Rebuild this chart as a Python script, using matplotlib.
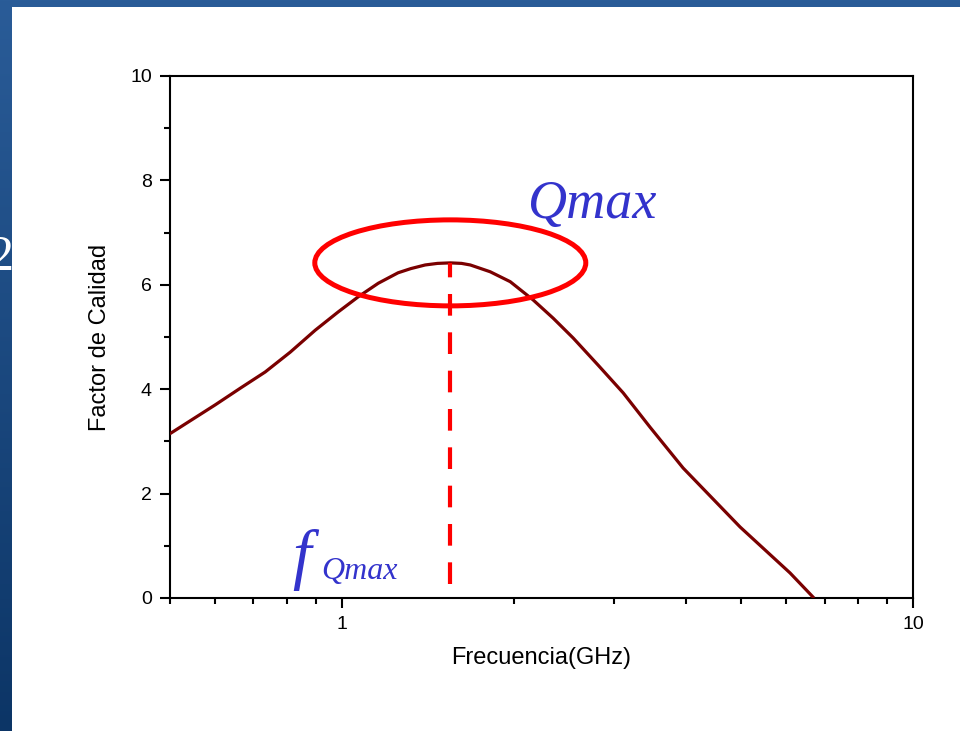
import numpy as np
import matplotlib
matplotlib.use("Agg")
import matplotlib.pyplot as plt
from matplotlib.patches import Ellipse, Rectangle
from matplotlib.transforms import ScaledTranslation
from matplotlib.ticker import LogLocator, NullFormatter, FixedLocator

# values
freq_ghz = [0.502, 0.600, 0.664, 0.734, 0.812, 0.898, 0.985, 1.068, 1.158,
            1.254, 1.320, 1.399, 1.470, 1.548, 1.620, 1.678, 1.818, 1.971,
            2.162, 2.344, 2.541, 2.810, 3.108, 3.465, 3.958, 4.980, 6.091,
            6.68]
q_factor = [3.16, 3.70, 4.02, 4.33, 4.71, 5.13, 5.48, 5.77, 6.03,
            6.23, 6.31, 6.38, 6.41, 6.42, 6.41, 6.38, 6.25, 6.06,
            5.71, 5.36, 4.98, 4.46, 3.93, 3.27, 2.49, 1.36, 0.48,
            0.02]
f_qmax = 1.548
q_max = 6.42
dash_bottom = 0.27

y_ticks = [0, 2, 4, 6, 8, 10]
y_minor = [1, 3, 5, 7, 9]

plt.rcParams['font.family'] = ['Liberation Sans', 'DejaVu Sans']

fig = plt.figure(figsize=(9.6, 7.31), dpi=100)

# blue slide background with a white panel on top
bg = fig.add_axes([0, 0, 1, 1], zorder=-10)
grad = np.linspace(0, 1, 256).reshape(-1, 1)
bg.imshow(grad, aspect='auto', extent=[0, 1, 0, 1],
          cmap=matplotlib.colors.LinearSegmentedColormap.from_list(
              'bl', ['#2a5c98', '#0c3566']))
bg.text(14 / 960, 1 - 258 / 731, "2", color='white', fontsize=36,
        family='Liberation Serif', ha='right', va='center',
        transform=bg.transAxes)
bg.add_patch(Rectangle((12 / 960, 0), 1, 1 - 7 / 731, facecolor='white',
                       edgecolor='none', transform=bg.transAxes, zorder=5))
bg.set_xlim(0, 1)
bg.set_ylim(0, 1)
bg.axis('off')

ax = fig.add_axes([170 / 960, 133 / 731, 743 / 960, 522 / 731])
ax.plot(freq_ghz, q_factor, color='#7a0000', lw=2.3, zorder=3,
        solid_joinstyle='round')
ax.set_xscale('log')
ax.set_xlim(0.5, 10)
ax.set_ylim(0, 10)

ax.vlines(f_qmax, dash_bottom, q_max, colors='#ff0000', lw=3.0,
          linestyles=(0, (5.2, 4.0)), zorder=4)

# ellipse around the peak, sized in inches and centred on the data point
ell_tr = fig.dpi_scale_trans + ScaledTranslation(f_qmax, q_max, ax.transData)
ax.add_patch(Ellipse((0, 0), 2.71, 0.86, transform=ell_tr, fill=False,
                     edgecolor='#ff0000', lw=3.6, zorder=5, clip_on=False))

ax.text((527 - 170) / 743, (598 - 218) / 522, "Qmax", transform=ax.transAxes,
        family='Liberation Serif', style='italic', fontsize=39,
        color='#3333cc', va='baseline', ha='left')
ax.text((292 - 170) / 743, (598 - 577) / 522, "f", transform=ax.transAxes,
        family='Liberation Serif', style='italic', fontsize=48,
        color='#3333cc', va='baseline', ha='left')
ax.text((321 - 170) / 743, (598 - 579) / 522, "Qmax", transform=ax.transAxes,
        family='Liberation Serif', style='italic', fontsize=23,
        color='#3333cc', va='baseline', ha='left')

ax.set_yticks(y_ticks)
ax.yaxis.set_minor_locator(FixedLocator(y_minor))
ax.xaxis.set_major_locator(FixedLocator([1, 10]))
ax.set_xticklabels(['1', '10'])
ax.xaxis.set_minor_locator(LogLocator(base=10, subs=np.arange(2, 10)))
ax.xaxis.set_minor_formatter(NullFormatter())

for s in ax.spines.values():
    s.set_linewidth(1.5)
ax.tick_params(which='major', direction='out', length=7, width=1.5,
               labelsize=14, pad=6)
ax.tick_params(which='minor', direction='out', length=4, width=1.5)

ax.set_xlabel("Frecuencia(GHz)", fontsize=17, labelpad=10)
ax.set_ylabel("Factor de Calidad", fontsize=17, labelpad=14)

fig.savefig("out.png", dpi=100)
